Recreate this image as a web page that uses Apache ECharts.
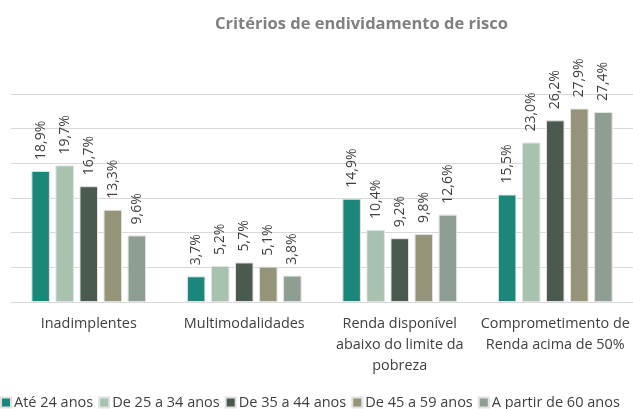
<!DOCTYPE html>
<html>
<head>
<meta charset="utf-8">
<script src="https://cdn.jsdelivr.net/npm/echarts@6/dist/echarts.min.js"></script>
<style>
html, body { margin: 0; padding: 0; background: #fff; }
#main { width: 633px; height: 409px; }
</style>
</head>
<body>
<div id="main"></div>
<script>
// categorias e faixas etárias
var categorias = [
	'Inadimplentes',
	'Multimodalidades',
	'Renda disponível\nabaixo do limite da\npobreza',
	'Comprometimento de\nRenda acima de 50%'
];
var faixas = ['Até 24 anos', 'De 25 a 34 anos', 'De 35 a 44 anos', 'De 45 a 59 anos', 'A partir de 60 anos'];
var cores = ['#1b877a', '#a7c3af', '#4a5a4f', '#959479', '#8e9e93'];

var ate24 = [18.9, 3.7, 14.9, 15.5];
var de25a34 = [19.7, 5.2, 10.4, 23.0];
var de35a44 = [16.7, 5.7, 9.2, 26.2];
var de45a59 = [13.3, 5.1, 9.8, 27.9];
var aPartir60 = [9.6, 3.8, 12.6, 27.4];
var valores = [ate24, de25a34, de35a44, de45a59, aPartir60];

var fonte = '"Open Sans", sans-serif';

var series = [];
for (var i = 0; i < faixas.length; i++) {
	series.push({
		name: faixas[i],
		type: 'bar',
		data: valores[i],
		barWidth: 18.5,
		barGap: '30%',
		itemStyle: {
			color: cores[i],
			borderColor: '#e2e2e2',
			borderWidth: 1
		},
		label: {
			show: true,
			position: 'top',
			distance: 11,
			rotate: 90,
			align: 'left',
			verticalAlign: 'middle',
			color: '#404040',
			fontSize: 14,
			fontFamily: fonte,
			formatter: function (p) {
				return p.value.toFixed(1).replace('.', ',') + '%';
			}
		}
	});
}

var option = {
	animation: false,
	title: {
		text: 'Critérios de endividamento de risco',
		left: 210,
		top: 11,
		textStyle: {
			color: '#808080',
			fontSize: 16.5,
			fontWeight: 'bold',
			fontFamily: fonte
		}
	},
	legend: {
		data: faixas,
		left: -5,
		width: 680,
		top: 390,
		itemWidth: 10,
		itemHeight: 10,
		itemGap: 5,
		icon: 'rect',
		textStyle: {
			color: '#404040',
			fontSize: 14.5,
			fontFamily: fonte,
			padding: [0, 0, 0, -2]
		}
	},
	grid: {
		left: 11,
		right: -2,
		top: 94,
		bottom: 107
	},
	xAxis: {
		type: 'category',
		data: categorias,
		axisLine: { lineStyle: { color: '#d9d9d9', width: 1 } },
		axisTick: { show: false },
		axisLabel: {
			interval: 0,
			margin: 11,
			color: '#404040',
			fontSize: 14.4,
			fontFamily: fonte,
			lineHeight: 21
		}
	},
	yAxis: {
		type: 'value',
		min: 0,
		max: 30,
		interval: 5,
		axisLabel: { show: false },
		axisLine: { show: false },
		axisTick: { show: false },
		splitLine: { lineStyle: { color: '#d9d9d9', width: 1 } }
	},
	series: series
};

var myChart = echarts.init(document.getElementById('main'));
myChart.setOption(option);
</script>
</body>
</html>
